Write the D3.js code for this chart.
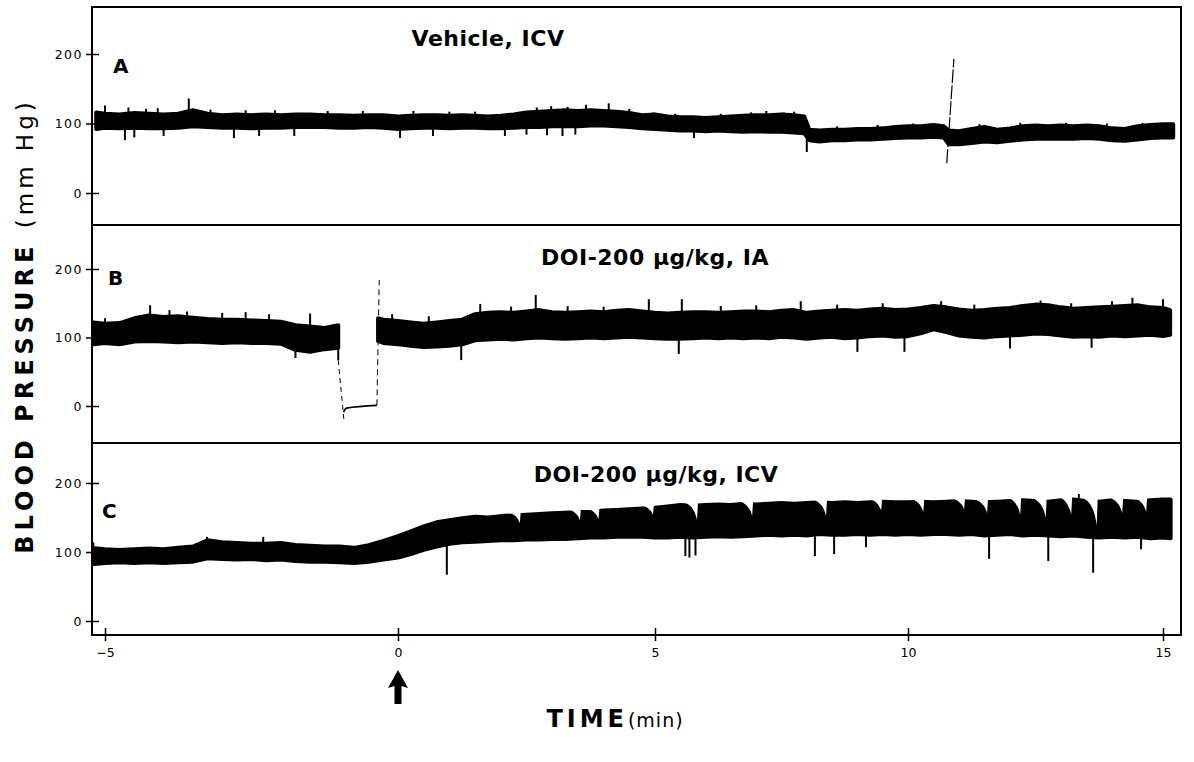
<!DOCTYPE html>
<html lang="en">
<head>
  <meta charset="UTF-8">
  <title>blood pressure traces</title>
  <script src="https://cdn.jsdelivr.net/npm/d3@7"></script>
  <style>
    body { margin: 0; background: #fff; }
    svg { display: block; }
  </style>
</head>
<body>
<script>
  // time (min), low, high  (mm Hg)
  const traceA = [
    [-5.15, 92, 116], [-5.0, 94, 114], [-4.75, 93, 113], [-4.5, 94, 115], [-4.25, 93, 114],
    [-4.0, 93, 113], [-3.75, 94, 114], [-3.5, 96, 119], [-3.25, 95, 114], [-3.0, 94, 112],
    [-2.75, 94, 113], [-2.5, 93, 112], [-2.25, 94, 113], [-2.0, 94, 112], [-1.75, 95, 113],
    [-1.5, 95, 113], [-1.25, 95, 112], [-1.0, 94, 112], [-0.75, 94, 111], [-0.5, 95, 112],
    [-0.25, 94, 112], [0.0, 92, 110], [0.25, 93, 111], [0.5, 94, 112], [0.75, 94, 112],
    [1.0, 93, 111], [1.25, 94, 112], [1.5, 94, 111], [1.75, 93, 110], [2.0, 93, 111],
    [2.25, 94, 113], [2.5, 95, 116], [2.75, 95, 117], [3.0, 96, 118], [3.25, 96, 119],
    [3.5, 96, 118], [3.75, 97, 119], [4.0, 97, 118], [4.25, 96, 117], [4.5, 95, 115],
    [4.75, 93, 112], [5.0, 92, 113], [5.25, 91, 110], [5.5, 90, 109], [5.75, 90, 109],
    [6.0, 89, 108], [6.25, 90, 109], [6.5, 89, 110], [6.75, 88, 111], [7.0, 89, 112],
    [7.25, 88, 112], [7.5, 88, 113], [7.75, 87, 112], [7.95, 86, 110], [8.05, 76, 91],
    [8.25, 74, 90], [8.5, 76, 91], [8.75, 76, 91], [9.0, 77, 92], [9.25, 77, 92],
    [9.5, 78, 93], [9.75, 79, 95], [10.0, 80, 96], [10.25, 80, 96], [10.5, 81, 98],
    [10.7, 80, 96], [10.8, 70, 90], [11.0, 70, 89], [11.25, 72, 92], [11.5, 74, 95],
    [11.75, 73, 91], [12.0, 75, 93], [12.25, 77, 96], [12.5, 78, 97], [12.75, 78, 96],
    [13.0, 78, 97], [13.25, 78, 96], [13.5, 79, 97], [13.75, 78, 96], [14.0, 76, 93],
    [14.25, 75, 92], [14.5, 77, 96], [14.75, 79, 98], [15.0, 80, 99], [15.2, 80, 99]
  ]
  const traceB = [
    [-5.2, 90, 122], [-5.0, 92, 120], [-4.75, 90, 121], [-4.5, 94, 128], [-4.25, 95, 132],
    [-4.0, 94, 130], [-3.75, 93, 131], [-3.5, 94, 129], [-3.25, 93, 127], [-3.0, 92, 126],
    [-2.75, 93, 126], [-2.5, 92, 125], [-2.25, 92, 124], [-2.0, 91, 123], [-1.75, 82, 118],
    [-1.5, 79, 116], [-1.25, 83, 114], [-1.02, 85, 118],
    [-0.7, null, null],
    [-0.34, 95, 128], [-0.25, 92, 126], [0.0, 90, 124], [0.25, 88, 122], [0.5, 86, 120],
    [0.75, 87, 122], [1.0, 88, 124], [1.25, 90, 126], [1.5, 96, 134], [1.75, 97, 136],
    [2.0, 98, 137], [2.25, 97, 136], [2.5, 99, 138], [2.75, 100, 140], [3.0, 99, 137],
    [3.25, 98, 136], [3.5, 99, 137], [3.75, 100, 138], [4.0, 99, 137], [4.25, 100, 139],
    [4.5, 101, 140], [4.75, 100, 138], [5.0, 99, 136], [5.25, 98, 135], [5.5, 98, 136],
    [5.75, 99, 137], [6.0, 100, 137], [6.25, 99, 136], [6.5, 100, 137], [6.75, 99, 138],
    [7.0, 100, 138], [7.25, 99, 137], [7.5, 101, 139], [7.75, 100, 140], [8.0, 98, 136],
    [8.25, 100, 138], [8.5, 101, 139], [8.75, 99, 140], [9.0, 100, 139], [9.25, 102, 141],
    [9.5, 103, 142], [9.75, 101, 140], [10.0, 102, 141], [10.25, 106, 143], [10.5, 112, 146],
    [10.75, 108, 144], [11.0, 103, 141], [11.25, 101, 139], [11.5, 100, 140], [11.75, 102, 142],
    [12.0, 103, 143], [12.25, 104, 146], [12.5, 106, 148], [12.75, 105, 147], [13.0, 103, 144],
    [13.25, 101, 142], [13.5, 102, 143], [13.75, 101, 144], [14.0, 103, 145], [14.25, 102, 146],
    [14.5, 103, 147], [14.75, 104, 144], [15.0, 102, 143], [15.14, 104, 140]
  ]
  const traceC = [
    [-5.25, 82, 106], [-5.0, 84, 104], [-4.75, 85, 103], [-4.5, 84, 104], [-4.25, 85, 105],
    [-4.0, 84, 104], [-3.75, 85, 106], [-3.5, 86, 108], [-3.25, 91, 117], [-3.0, 90, 114],
    [-2.75, 89, 113], [-2.5, 90, 112], [-2.25, 88, 112], [-2.0, 89, 113], [-1.75, 87, 110],
    [-1.5, 86, 109], [-1.25, 86, 108], [-1.0, 85, 108], [-0.75, 84, 106], [-0.5, 86, 110],
    [-0.25, 89, 116], [0.0, 92, 123], [0.25, 97, 130], [0.5, 103, 137], [0.75, 108, 143],
    [1.0, 112, 146], [1.25, 114, 149], [1.5, 115, 151], [1.75, 116, 150], [2.0, 117, 152],
    [2.25, 117, 153], [2.5, 118, 154], [2.75, 118, 155], [3.0, 119, 156], [3.25, 119, 157],
    [3.5, 120, 158], [3.75, 121, 158], [4.0, 121, 160], [4.25, 122, 161], [4.5, 122, 162],
    [4.75, 122, 163], [5.0, 121, 164], [5.25, 121, 166], [5.5, 122, 168], [5.75, 121, 167],
    [6.0, 122, 168], [6.25, 123, 169], [6.5, 122, 168], [6.75, 123, 170], [7.0, 124, 169],
    [7.25, 125, 170], [7.5, 124, 171], [7.75, 125, 170], [8.0, 124, 171], [8.25, 126, 172],
    [8.5, 125, 171], [8.75, 125, 172], [9.0, 126, 171], [9.25, 125, 172], [9.5, 126, 173],
    [9.75, 125, 172], [10.0, 126, 172], [10.25, 125, 173], [10.5, 126, 172], [10.75, 126, 173],
    [11.0, 125, 174], [11.25, 126, 173], [11.5, 124, 172], [11.75, 125, 173], [12.0, 126, 174],
    [12.25, 124, 175], [12.5, 125, 174], [12.75, 124, 173], [13.0, 123, 175], [13.25, 124, 176],
    [13.5, 122, 174], [13.75, 121, 173], [14.0, 122, 175], [14.25, 121, 174], [14.5, 122, 173],
    [14.75, 120, 175], [15.0, 121, 176], [15.15, 120, 176]
  ]

  // single beats / artefacts sticking out of the band: time, tip value
  const spikesA = [
    [-5.0, 126], [-4.66, 76], [-4.6, 123], [-4.5, 80], [-4.3, 121], [-4.1, 122], [-4.0, 82],
    [-3.57, 136], [-3.2, 120], [-2.8, 79], [-2.6, 119], [-2.37, 82], [-2.1, 119], [-1.77, 82],
    [-1.2, 118], [-0.6, 118], [0.04, 79], [0.3, 118], [0.68, 82], [1.0, 117], [1.5, 117],
    [2.08, 82], [2.5, 84], [2.7, 123], [2.9, 83], [2.98, 125], [3.2, 82], [3.3, 124], [3.45, 84],
    [3.66, 127], [4.1, 129], [4.5, 121], [4.97, 116], [5.4, 114], [5.77, 79], [6.3, 114],
    [6.9, 116], [7.2, 118], [7.55, 116], [7.75, 117], [8.0, 59], [8.6, 96], [9.4, 98],
    [10.1, 100], [11.4, 99], [12.2, 101], [13.1, 101], [13.9, 100], [14.6, 101]
  ]
  const spikesB = [
    [-5.0, 128], [-4.23, 147], [-3.9, 140], [-3.6, 138], [-3.0, 136], [-2.6, 137], [-2.2, 134],
    [-1.75, 70], [-1.5, 135], [-0.1, 134], [0.6, 131], [1.23, 67], [1.6, 149], [2.2, 145],
    [2.68, 162], [3.3, 146], [4.0, 145], [4.88, 156], [5.47, 76], [5.53, 156], [6.3, 146],
    [7.0, 147], [7.88, 153], [8.6, 148], [9.0, 79], [9.5, 150], [9.93, 79], [10.65, 153],
    [11.3, 148], [12.0, 84], [12.6, 154], [13.2, 150], [13.6, 85], [14.0, 153], [14.4, 158],
    [15.0, 156]
  ]
  const spikesC = [
    [-5.2, 114], [-3.26, 122], [-2.3, 122], [0.95, 67], [5.6, 94], [5.68, 92], [5.8, 95],
    [8.16, 94], [8.54, 97], [9.17, 107], [11.59, 90], [12.75, 87], [13.35, 184], [13.63, 70],
    [14.57, 104]
  ]
  // sawtooth notches cut into the top of trace C: time, bottom of notch
  const notchesC = [
    [2.37, 142], [3.54, 146], [3.9, 148], [4.96, 154], [5.83, 146], [6.92, 152], [8.38, 152],
    [9.47, 160], [10.3, 158], [11.1, 162], [11.55, 156], [12.2, 154], [12.7, 150], [13.2, 154],
    [13.7, 138], [14.2, 156], [14.67, 158]
  ]
  // pen excursions: flush in B, artefact in A
  const flushB = [[-1.02, 118], [-1.02, 67]]
  const flushBdrop = [[-1.02, 67], [-0.92, -23]]
  const flushBbase = [[-0.93, -9], [-0.88, -3], [-0.36, 1]]
  const flushBrise = [[-0.36, 1], [-0.32, 184]]
  const artefactA = [[10.76, 43], [10.9, 193]]

  const timeTicks = [-5, 0, 5, 10, 15]
  const bpTicks = [0, 100, 200]
  const titles = ['Vehicle, ICV', 'DOI-200 µg/kg, IA', 'DOI-200 µg/kg, ICV']
  const letters = ['A', 'B', 'C']

  const width = 1194
  const height = 762
  const frame = { left: 92, right: 1181 }
  const layout = [
    { top: 7, bottom: 225, zero: 193, two: 54, titleX: 488, titleY: 46, labelX: 113, labelY: 73 },
    { top: 225, bottom: 443, zero: 406, two: 269, titleX: 655, titleY: 265, labelX: 108, labelY: 285 },
    { top: 443, bottom: 635, zero: 621, two: 483, titleX: 656, titleY: 482, labelX: 102, labelY: 518 }
  ]
  const traces = [traceA, traceB, traceC]
  const spikes = [spikesA, spikesB, spikesC]

  const svg = d3.select('body').append('svg')
    .attr('width', width).attr('height', height)
    .attr('viewBox', [0, 0, width, height])

  // chart paper ran a little faster before the injection
  const x = d3.scaleLinear()
    .domain(timeTicks)
    .range([105, 398, 655, 908, 1163])

  // value of the band (low, high or middle) at time t, read between the rows
  const bandAt = (trace, t, part) => {
    const rows = trace.filter(d => d[1] != null)
    const i = Math.max(1, Math.min(rows.length - 1, d3.bisector(d => d[0]).left(rows, t)))
    const a = rows[i - 1], b = rows[i]
    const k = Math.max(0, Math.min(1, (t - a[0]) / (b[0] - a[0])))
    const pick = d => part === 'hi' ? d[2] : part === 'lo' ? d[1] : (d[1] + d[2]) / 2
    return pick(a) * (1 - k) + pick(b) * k
  }

  layout.forEach((p, idx) => {
    const y = d3.scaleLinear().domain([0, 200]).range([p.zero, p.two])
    const clipId = 'clip' + idx
    svg.append('clipPath').attr('id', clipId)
      .append('rect')
      .attr('x', frame.left).attr('y', p.top)
      .attr('width', frame.right - frame.left).attr('height', p.bottom - p.top)

    const g = svg.append('g').attr('clip-path', `url(#${clipId})`)

    const area = d3.area()
      .defined(d => d[1] != null)
      .x(d => x(d[0]))
      .y0(d => y(d[1]))
      .y1(d => y(d[2]))

    g.append('path')
      .datum(traces[idx])
      .attr('d', area)
      .attr('fill', '#000')
      .attr('stroke', '#000')
      .attr('stroke-width', 4)
      .attr('stroke-linejoin', 'round')

    g.append('g')
      .selectAll('line')
      .data(spikes[idx])
      .join('line')
      .attr('x1', d => x(d[0])).attr('x2', d => x(d[0]))
      .attr('y1', d => y(bandAt(traces[idx], d[0], 'mid')))
      .attr('y2', d => y(d[1]))
      .attr('stroke', '#000')
      .attr('stroke-width', 2)

    if (idx === 2) {
      g.append('g')
        .selectAll('path')
        .data(notchesC)
        .join('path')
        .attr('d', d => {
          const top = y(bandAt(traceC, d[0], 'hi')) - 4
          return `M${x(d[0] - 0.32)},${top}Q${x(d[0] - 0.06)},${top + 2} ${x(d[0])},${y(d[1])}L${x(d[0] + 0.02)},${top}Z`
        })
        .attr('fill', '#fff')
    }

    const line = d3.line().x(d => x(d[0])).y(d => y(d[1]))
    if (idx === 0) {
      g.append('path').datum(artefactA).attr('d', line)
        .attr('fill', 'none').attr('stroke', '#000').attr('stroke-width', 1.2)
        .attr('stroke-dasharray', '14,2')
    }
    if (idx === 1) {
      g.append('path').datum(flushB).attr('d', line)
        .attr('fill', 'none').attr('stroke', '#000').attr('stroke-width', 2)
      g.append('path').datum(flushBdrop).attr('d', line)
        .attr('fill', 'none').attr('stroke', '#000').attr('stroke-width', 1)
        .attr('stroke-dasharray', '5,4')
      g.append('path').datum(flushBbase).attr('d', d3.line().curve(d3.curveMonotoneX).x(d => x(d[0])).y(d => y(d[1])))
        .attr('fill', 'none').attr('stroke', '#000').attr('stroke-width', 1.8)
      g.append('path').datum(flushBrise).attr('d', line)
        .attr('fill', 'none').attr('stroke', '#000').attr('stroke-width', 1)
        .attr('stroke-dasharray', '6,4')
    }

    // y axis with ticks crossing the frame
    const yAxis = gg => gg
      .attr('transform', `translate(${frame.left},0)`)
      .style('font-family', '"DejaVu Sans", sans-serif')
      .style('font-size', '12.5px')
      .style('letter-spacing', '1.5px')
      .call(d3.axisLeft(y).tickValues(bpTicks).tickSize(6).tickPadding(3))
      .call(gg => gg.select('.domain').remove())
      .call(gg => gg.selectAll('.tick line').attr('x1', 7).attr('stroke-width', 1.5))

    svg.append('g').call(yAxis)

    svg.append('text')
      .attr('x', p.titleX).attr('y', p.titleY)
      .attr('text-anchor', 'middle')
      .style('font-family', '"DejaVu Sans", sans-serif')
      .style('font-weight', 'bold')
      .style('font-size', '22px')
      .style('letter-spacing', '0.5px')
      .text(titles[idx])

    svg.append('text')
      .attr('x', p.labelX).attr('y', p.labelY)
      .style('font-family', '"DejaVu Sans", sans-serif')
      .style('font-weight', 'bold')
      .style('font-size', '20px')
      .text(letters[idx])

    svg.append('rect')
      .attr('x', frame.left).attr('y', p.top)
      .attr('width', frame.right - frame.left).attr('height', p.bottom - p.top)
      .attr('fill', 'none').attr('stroke', '#000').attr('stroke-width', 2)
  })

  const xAxis = g => g
    .attr('transform', `translate(0,${layout[2].bottom})`)
    .style('font-family', '"DejaVu Sans", sans-serif')
    .style('font-size', '12.5px')
    .call(d3.axisBottom(x).tickValues(timeTicks).tickSize(6).tickPadding(7).tickFormat(d3.format('d')))
    .call(g => g.select('.domain').remove())
    .call(g => g.selectAll('.tick line').attr('y1', -7).attr('stroke-width', 1.5))

  svg.append('g').call(xAxis)

  // injection arrow at time 0
  const ax = x(0)
  svg.append('path')
    .attr('d', `M${ax},670 L${ax + 10},688 L${ax + 3.5},686 L${ax + 3.5},704 L${ax - 3.5},704 L${ax - 3.5},686 L${ax - 10},688 Z`)
    .attr('fill', '#000')

  const timeLabel = svg.append('text')
    .attr('x', 615).attr('y', 727)
    .attr('text-anchor', 'middle')
    .style('font-family', '"DejaVu Sans", sans-serif')
  timeLabel.append('tspan')
    .style('font-weight', 'bold').style('font-size', '24px').style('letter-spacing', '4px')
    .text('TIME')
  timeLabel.append('tspan')
    .style('font-size', '19px').style('letter-spacing', '1px')
    .text('(min)')

  const bpLabel = svg.append('text')
    .attr('transform', 'translate(33,326) rotate(-90)')
    .attr('text-anchor', 'middle')
    .style('font-family', '"DejaVu Sans", sans-serif')
  bpLabel.append('tspan')
    .style('font-weight', 'bold').style('font-size', '24px').style('letter-spacing', '5px')
    .text('BLOOD PRESSURE ')
  bpLabel.append('tspan')
    .style('font-size', '23px').style('letter-spacing', '4px')
    .text('(mm Hg)')
</script>
</body>
</html>
